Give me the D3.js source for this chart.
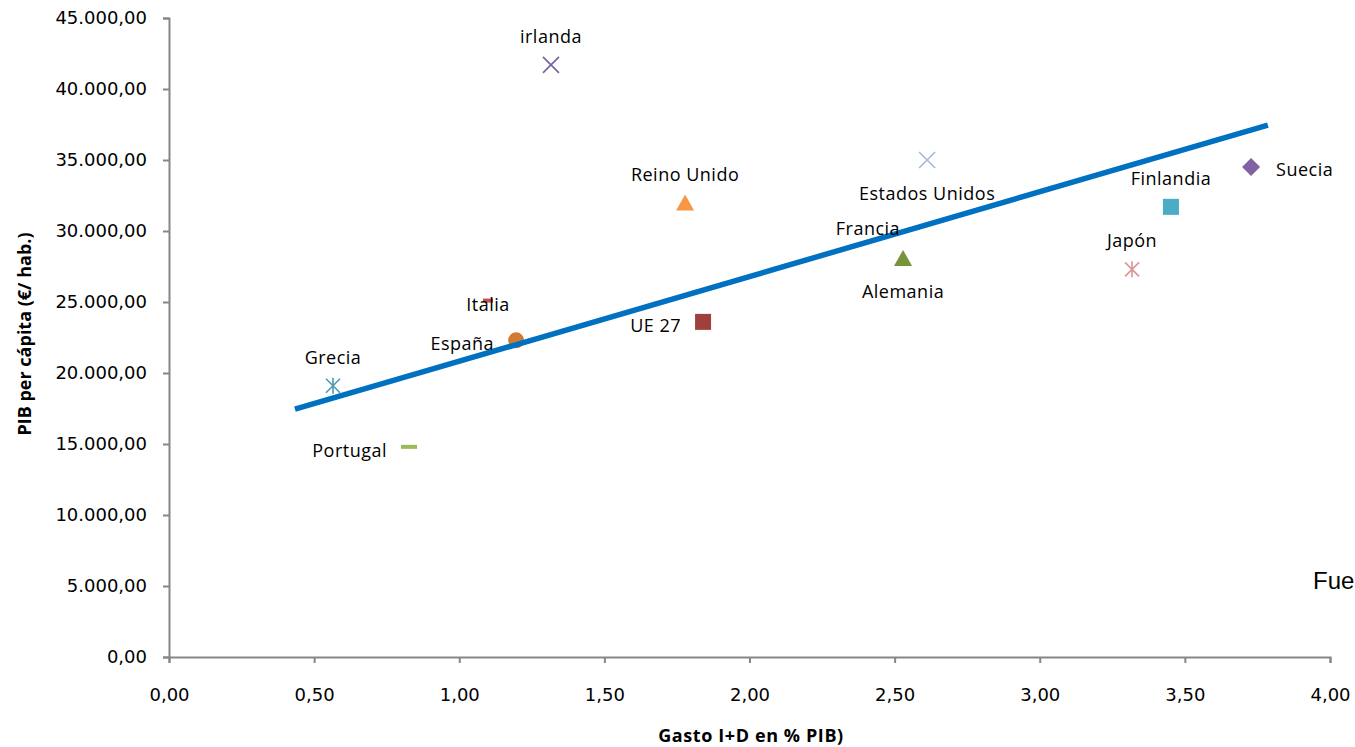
<!DOCTYPE html>
<html>
<head>
<meta charset="utf-8">
<script src="https://cdn.jsdelivr.net/npm/d3@7/dist/d3.min.js"></script>
<style>
  html, body { margin: 0; padding: 0; background: #fff; overflow: hidden; }
  svg { display: block; }
</style>
</head>
<body>
<svg id="chart" width="1355" height="747"></svg>
<script>
// ---- data ----
const countries = ["Grecia", "Portugal", "Italia", "España", "irlanda", "Reino Unido", "UE 27", "Francia", "Alemania", "Estados Unidos", "Japón", "Finlandia", "Suecia"];
const gastoID   = [0.565, 0.827, 1.099, 1.196, 1.316, 1.778, 1.840, 2.408, 2.529, 2.612, 3.318, 3.452, 3.728];
const pibCapita = [19100, 14800, 25100, 22300, 41700, 32000, 23600, 28200, 28100, 35000, 27300, 31700, 34500];
const trendX = [0.434, 3.786];
const trendY = [17450, 37450];
const xTicks = [0, 0.5, 1, 1.5, 2, 2.5, 3, 3.5, 4];
const yTicks = [0, 5000, 10000, 15000, 20000, 25000, 30000, 35000, 40000, 45000];

// ---- styling (markers & label placement) ----
const style = {
  "Grecia":         { m: "asterisk", c: "#4A9AB0", pos: "above" },
  "Portugal":       { m: "dash",     c: "#9BBB59", pos: "left" },
  "Italia":         { m: "smalldash",c: "#C0504D", pos: "center" },
  "España":         { m: "circle",   c: "#D07A33", pos: "left" },
  "irlanda":        { m: "x",        c: "#7560A0", pos: "above" },
  "Reino Unido":    { m: "triangle", c: "#F79646", pos: "above" },
  "UE 27":          { m: "square",   c: "#A0403C", pos: "left" },
  "Francia":        { m: "none",     c: "#0070C0", pos: "above" },
  "Alemania":       { m: "triangle", c: "#77933C", pos: "below" },
  "Estados Unidos": { m: "x",        c: "#A5B8D8", pos: "below" },
  "Japón":          { m: "asterisk", c: "#D99694", pos: "above" },
  "Finlandia":      { m: "square",   c: "#4BACC6", pos: "above" },
  "Suecia":         { m: "diamond",  c: "#8064A2", pos: "right" }
};

const svg = d3.select("#chart");
const x = d3.scaleLinear().domain([0, 4]).range([169, 1330]);
const y = d3.scaleLinear().domain([0, 45000]).range([657, 18]);

const fmtX = v => d3.format(".2f")(v).replace(".", ",");
const fmtY = v => {
  const s = d3.format(",.2f")(v);
  return s.replace(/,/g, "#").replace(".", ",").replace(/#/g, ".");
};

// axes
const axisColor = "#868686";
const xAxis = svg.append("g").attr("transform", "translate(0,657)")
  .call(d3.axisBottom(x).tickValues(xTicks).tickFormat(fmtX).tickSizeOuter(0).tickSize(6).tickPadding(25));
const yAxis = svg.append("g").attr("transform", "translate(169,0)")
  .call(d3.axisLeft(y).tickValues(yTicks).tickFormat(fmtY).tickSizeOuter(0).tickSize(6).tickPadding(16));
[xAxis, yAxis].forEach(g => {
  g.select(".domain").attr("stroke", axisColor).attr("stroke-width", 2);
  g.selectAll(".tick line").attr("stroke", axisColor).attr("stroke-width", 2);
  g.selectAll(".tick text").attr("fill", "#000").style("font-family", "DejaVu Sans").style("font-size", "18px");
});

// axis titles
svg.append("text")
  .attr("x", 751).attr("y", 742)
  .attr("text-anchor", "middle")
  .style("font-family", "Open Sans").style("font-weight", "bold").style("font-size", "18px")
  .style("letter-spacing", "0.6px")
  .text("Gasto I+D en % PIB)");
svg.append("text")
  .attr("transform", "translate(31,334) rotate(-90)")
  .attr("text-anchor", "middle")
  .style("font-family", "Open Sans").style("font-weight", "bold").style("font-size", "18px")
  .text("PIB per cápita (€/ hab.)");

// markers
const pts = countries.map((n, i) => ({ name: n, gx: gastoID[i], py: pibCapita[i], s: style[n] }));
const mk = svg.append("g");
pts.forEach(d => {
  const cx = x(d.gx), cy = y(d.py), c = d.s.c;
  const g = mk.append("g").attr("transform", `translate(${cx},${cy})`);
  switch (d.s.m) {
    case "circle":
      g.append("circle").attr("r", 8).attr("fill", c); break;
    case "square":
      g.append("rect").attr("x", -8).attr("y", -8).attr("width", 16).attr("height", 16).attr("fill", c); break;
    case "diamond":
      g.append("path").attr("d", "M0,-9L9,0L0,9L-9,0Z").attr("fill", c); break;
    case "triangle":
      g.append("path").attr("d", "M0,-8L9,8L-9,8Z").attr("fill", c); break;
    case "x":
      g.append("path").attr("d", "M-8,-8L8,8M8,-8L-8,8").attr("stroke", c).attr("stroke-width", 1.6).attr("fill", "none"); break;
    case "asterisk":
      g.append("path").attr("d", "M-7,-7L7,7M7,-7L-7,7M0,-8L0,8").attr("stroke", c).attr("stroke-width", 1.6).attr("fill", "none"); break;
    case "dash":
      g.append("rect").attr("x", -8).attr("y", -2).attr("width", 16).attr("height", 4).attr("fill", c); break;
    case "smalldash":
      g.append("rect").attr("x", -5).attr("y", -2).attr("width", 10).attr("height", 4).attr("fill", c); break;
  }
});

// trend line
svg.append("line")
  .attr("x1", x(trendX[0])).attr("y1", y(trendY[0]))
  .attr("x2", x(trendX[1])).attr("y2", y(trendY[1]))
  .attr("stroke", "#0070C0").attr("stroke-width", 5.5);

// labels
const lb = svg.append("g").style("font-family", "Open Sans").style("font-size", "18px").style("letter-spacing", "0.5px").attr("fill", "#000");
pts.forEach(d => {
  const cx = x(d.gx), cy = y(d.py);
  const t = lb.append("text").text(d.name);
  switch (d.s.pos) {
    case "above":  t.attr("x", cx).attr("y", cy - 22).attr("text-anchor", "middle"); break;
    case "below":  t.attr("x", cx).attr("y", cy + 40).attr("text-anchor", "middle"); break;
    case "left":   t.attr("x", cx - 22).attr("y", cy + 10).attr("text-anchor", "end"); break;
    case "right":  t.attr("x", cx + 25).attr("y", cy + 9).attr("text-anchor", "start"); break;
    case "center": t.attr("x", cx).attr("y", cy + 10).attr("text-anchor", "middle"); break;
  }
});

// source note (cut off at the right edge in the original)
svg.append("text")
  .attr("x", 1313).attr("y", 589)
  .style("font-family", "Liberation Sans").style("font-size", "24px")
  .text("Fue");
</script>
</body>
</html>
